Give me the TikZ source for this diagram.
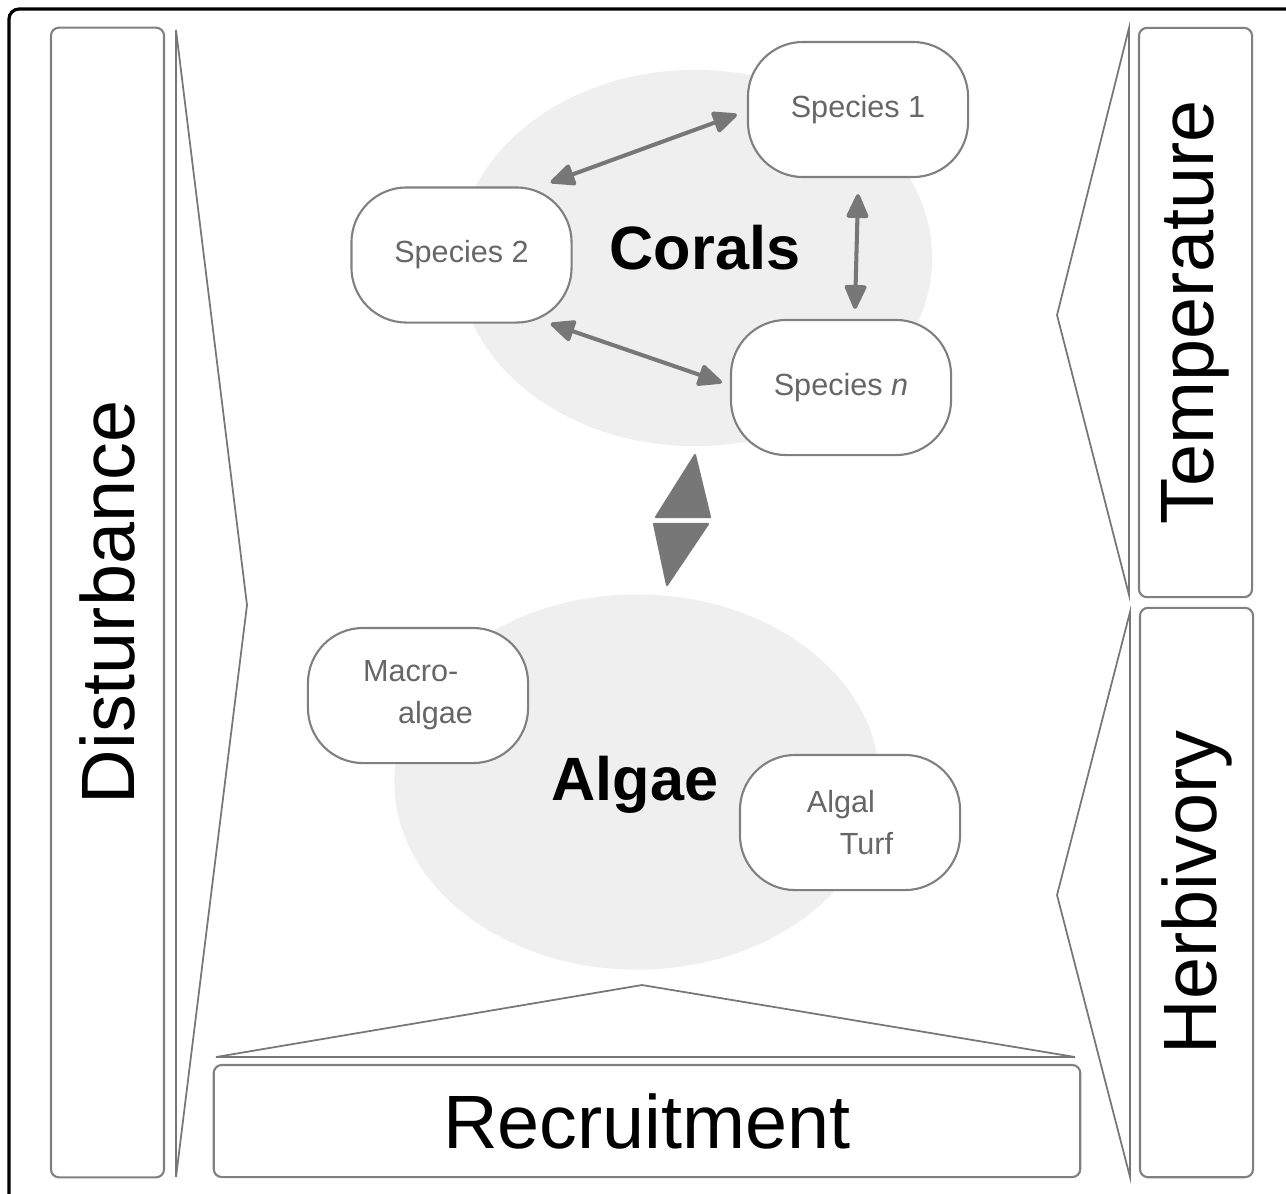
\documentclass[tikz,border=0pt]{standalone}
\usepackage{fontspec}
\setmainfont{Liberation Sans}
\usepackage{xcolor}
\usepackage{tikz}
\usetikzlibrary{shapes,arrows,positioning,calc,arrows.meta}

\definecolor{boxgray}{HTML}{808080}
\definecolor{txtgray}{HTML}{666666}
\definecolor{arrowgray}{HTML}{777777}
\definecolor{bggray}{HTML}{EFEFEF}

\begin{document}
\begin{tikzpicture}[x=0.01cm,y=-0.01cm,
    species/.style={draw=boxgray, line width=0.6pt, fill=white, rounded corners=0.55cm,
        minimum width=2.2cm, minimum height=1.35cm, text=txtgray,
        font=\fontsize{8.7}{11}\selectfont},
    factor/.style={draw=boxgray, line width=0.6pt, rounded corners=0.08cm, inner sep=0pt,
        font=\fontsize{21.5}{26}\selectfont},
    cone/.style={draw=arrowgray, line width=0.5pt},
    link/.style={draw=arrowgray, line width=1.15pt,
        {Triangle[length=0.27cm,width=0.23cm,round]}-{Triangle[length=0.27cm,width=0.23cm,round]}},
    bighead/.style={fill=arrowgray, draw=arrowgray, line width=0.6pt, line join=round},
    group/.style={ellipse, fill=bggray, inner sep=0pt},
    ]
    \useasboundingbox (0,0) rectangle (1286,1193);

    % Frame
    \draw [black, line width=0.9pt, rounded corners=0.1cm] (9,9) rectangle (1300,1210);

    % Drivers
    \node [factor, minimum width=1.13cm, minimum height=11.49cm] (dist) at (107.5,602.5) {\rotatebox{90}{Disturbance}};
    \node [factor, minimum width=1.13cm, minimum height=5.69cm] (temp) at (1195.5,312.5) {\rotatebox{90}{Temperature}};
    \node [factor, minimum width=1.13cm, minimum height=5.69cm] (herb) at (1196.5,892.5) {\rotatebox{90}{Herbivory}};
    \node [factor, minimum width=8.66cm, minimum height=1.12cm] (recr) at (647,1121) {Recruitment};

    % Wedges
    \draw [cone] (176,30) -- (247,605) -- (176,1177) -- cycle;
    \draw [cone] (1129,28) -- (1057,315) -- (1129,595) -- cycle;
    \draw [cone] (1130,612) -- (1057,895) -- (1130,1177) -- cycle;
    \draw [cone] (216,1057) -- (642,985) -- (1075,1057) -- cycle;

    % Groups
    \node [group, minimum width=4.74cm, minimum height=3.76cm] (coralbg) at (695,258) {};
    \node [group, minimum width=4.85cm, minimum height=3.75cm] (algaebg) at (637,782) {};
    \node [font=\fontsize{17.4}{20}\selectfont\bfseries] (corals) at (705,248) {Corals};
    \node [font=\fontsize{17.4}{20}\selectfont\bfseries] (algae) at (635,785) {Algae};

    % Species
    \node [species] (sp1) at (858,109.5) {Species 1};
    \node [species] (sp2) at (461.5,255) {Species 2};
    \node [species] (spn) at (841,387.5) {Species \textit{n}};
    \node [species, align=left] (macro) at (418,695.5) {Macro-\\[1pt]\hspace*{0.35cm}algae};
    \node [species, align=left] (turf) at (850,822.5) {Algal\\[1pt]\hspace*{0.33cm}Turf};

    % Interactions
    \draw [link] ([shift={(-22,-4)}]sp2.north east) -- ([shift={(-10,5)}]sp1.west);
    \draw [link] ([shift={(0,16)}]sp1.south) -- ([shift={(14,-10)}]spn.north);
    \draw [link] ([shift={(-22,0)}]sp2.south east) -- ([shift={(-8,-5)}]spn.west);

    % Corals <-> Algae
    \coordinate (ctop) at (695,455);
    \coordinate (cbot) at (667,585);
    \draw [bighead] (ctop) -- (710,517) -- (656,517) -- cycle;
    \draw [bighead] (cbot) -- (654,524) -- (708,524) -- cycle;
\end{tikzpicture}
\end{document}
